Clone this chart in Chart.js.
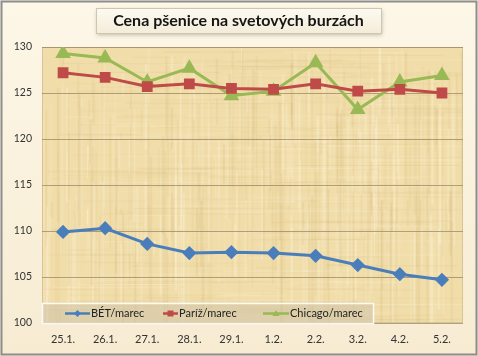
<!DOCTYPE html>
<html>
<head>
<meta charset="utf-8">
<script src="https://cdn.jsdelivr.net/npm/chart.js@4"></script>
<style>
html,body{margin:0;padding:0;background:#fff;}
#wrap{width:478px;height:356px;position:relative;}
</style>
</head>
<body>
<div id="wrap"><canvas id="c" width="478" height="356"></canvas></div>
<script>
const categories = ['25.1.','26.1.','27.1.','28.1.','29.1.','1.2.','2.2.','3.2.','4.2.','5.2.'];
const betValues = [109.9,110.3,108.6,107.6,107.7,107.6,107.3,106.3,105.3,104.7];
const parizValues = [127.2,126.7,125.7,126.0,125.5,125.4,126.0,125.2,125.4,125.0];
const chicagoValues = [129.3,128.8,126.2,127.7,124.7,125.2,128.3,123.2,126.2,126.9];
const seriesNames = ['BÉT/marec','Paríž/marec','Chicago/marec'];
const titleText = 'Cena pšenice na svetových burzách';
const yMin = 100, yMax = 130, yStep = 5;

const FONT = 'Lato, "Open Sans", sans-serif';

function makePaper(){
  const p = document.createElement('canvas');
  p.width = 440; p.height = 290;
  const g = p.getContext('2d');
  g.fillStyle = '#f1dda9';
  g.fillRect(0,0,p.width,p.height);
  let s = 12345;
  const rnd = () => { s = (s*1103515245 + 12345) & 0x7fffffff; return s/0x7fffffff; };
  for(let i=0;i<400;i++){
    const x = rnd()*p.width;
    g.fillStyle = rnd()<0.55 ? 'rgba(255,248,225,'+(0.12+rnd()*0.22)+')' : 'rgba(200,165,100,'+(0.06+rnd()*0.12)+')';
    g.fillRect(x, rnd()*p.height*0.7, 1+rnd()*1.5, 15+rnd()*160);
  }
  for(let i=0;i<320;i++){
    const y = rnd()*p.height;
    g.fillStyle = rnd()<0.55 ? 'rgba(255,248,225,'+(0.1+rnd()*0.18)+')' : 'rgba(200,165,100,'+(0.05+rnd()*0.1)+')';
    g.fillRect(rnd()*p.width*0.8, y, 20+rnd()*160, 1);
  }
  return p;
}
const paper = makePaper();

const bgPlugin = {
  id:'bg',
  beforeDraw(chart){
    const {ctx, chartArea:a, width, height} = chart;
    ctx.save();
    const gr = ctx.createLinearGradient(0,0,0,height);
    gr.addColorStop(0,'#fdf7e8');
    gr.addColorStop(1,'#f7ecd2');
    ctx.fillStyle = gr;
    ctx.fillRect(0,0,width,height);
    ctx.strokeStyle = '#8d8d8d';
    ctx.lineWidth = 2;
    ctx.strokeRect(1.5,1.5,width-3,height-3);
    ctx.drawImage(paper, a.left, a.top, a.right-a.left, a.bottom-a.top);
    ctx.strokeStyle = 'rgba(190,170,130,0.5)';
    ctx.lineWidth = 1;
    ctx.strokeRect(a.left+0.5, a.top+0.5, a.right-a.left-1, a.bottom-a.top-1);
    ctx.shadowColor = 'rgba(0,0,0,0.25)';
    ctx.shadowBlur = 4; ctx.shadowOffsetX = 1; ctx.shadowOffsetY = 2;
    const tg = ctx.createLinearGradient(0,8,0,34);
    tg.addColorStop(0,'#fdfaf2'); tg.addColorStop(1,'#f4ecd9');
    ctx.fillStyle = tg;
    ctx.fillRect(96,8,285,25);
    ctx.shadowColor = 'transparent';
    ctx.strokeStyle = '#cfc6b0';
    ctx.strokeRect(96.5,8.5,285,25);
    ctx.fillStyle = '#151515';
    ctx.font = 'bold 16px ' + FONT;
    ctx.textAlign = 'center'; ctx.textBaseline = 'middle';
    ctx.fillText(titleText, 238.5, 21);
    ctx.restore();
  }
};

const legendPlugin = {
  id:'legbox',
  afterDatasetsDraw(chart){
    const {ctx} = chart;
    ctx.save();
    ctx.fillStyle = 'rgba(205,195,170,0.55)';
    ctx.fillRect(42,303,332,21);
    ctx.strokeStyle = 'rgba(255,255,255,0.9)';
    ctx.lineWidth = 1.5;
    ctx.strokeRect(42.5,303.5,331,20);
    const items = [[65,90],[163,178],[263,289]];
    ctx.font = '11px ' + FONT;
    ctx.textBaseline = 'middle';
    chart.data.datasets.forEach((ds,i)=>{
      const [x0,x1] = items[i];
      const y = 313.5;
      ctx.strokeStyle = ds.borderColor; ctx.lineWidth = 2.5;
      ctx.beginPath(); ctx.moveTo(x0,y); ctx.lineTo(x1,y); ctx.stroke();
      const mx = (x0+x1)/2;
      ctx.fillStyle = ds.borderColor;
      ctx.beginPath();
      if(ds.pointStyle==='rectRot'){ctx.moveTo(mx,y-3.5);ctx.lineTo(mx+3.5,y);ctx.lineTo(mx,y+3.5);ctx.lineTo(mx-3.5,y);}
      else if(ds.pointStyle==='rect'){ctx.rect(mx-3,y-3,6,6);}
      else {ctx.moveTo(mx,y-3.5);ctx.lineTo(mx+3.5,y+2.5);ctx.lineTo(mx-3.5,y+2.5);}
      ctx.fill();
      ctx.fillStyle = '#222';
      ctx.fillText(ds.label, x1+1, y);
    });
    ctx.restore();
  }
};

new Chart(document.getElementById('c'), {
  type:'line',
  data:{
    labels: categories,
    datasets:[
      {label:seriesNames[0], data:betValues, borderColor:'#4a7ebb', backgroundColor:'#4a7ebb', borderWidth:3, pointStyle:'rectRot', pointRadius:5, pointHoverRadius:5, tension:0},
      {label:seriesNames[1], data:parizValues, borderColor:'#be4b48', backgroundColor:'#be4b48', borderWidth:3, pointStyle:'rect', pointRadius:5.5, pointHoverRadius:5.5, tension:0},
      {label:seriesNames[2], data:chicagoValues, borderColor:'#98b954', backgroundColor:'#98b954', borderWidth:3, pointStyle:'triangle', pointRadius:6, pointHoverRadius:6, tension:0}
    ]
  },
  options:{
    responsive:false,
    animation:false,
    events:[],
    layout:{padding:{left:0,top:47,right:15,bottom:0}},
    plugins:{legend:{display:false}, title:{display:false}, tooltip:{enabled:false}},
    scales:{
      x:{
        offset:true,
        grid:{display:false, drawTicks:false},
        border:{display:false},
        ticks:{color:'#333', font:{family:FONT,size:11}, padding:10, maxRotation:0, autoSkip:false},
        afterFit(s){ s.height = 33; }
      },
      y:{
        min:yMin, max:yMax,
        grid:{color:'rgba(150,130,95,0.7)', lineWidth:1, drawTicks:false},
        border:{display:false},
        ticks:{stepSize:yStep, color:'#333', font:{family:FONT,size:10.5}, padding:10},
        afterFit(s){ s.width = 42; }
      }
    }
  },
  plugins:[bgPlugin, legendPlugin]
});
</script>
</body>
</html>
